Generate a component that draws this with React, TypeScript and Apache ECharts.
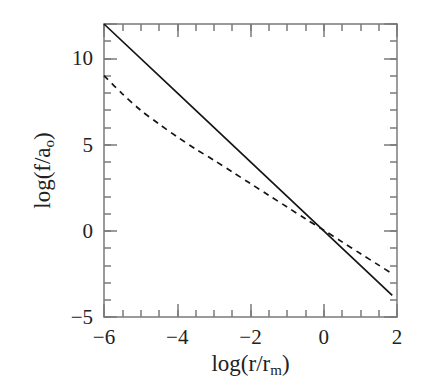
import React, { useEffect, useRef } from "react";
import * as echarts from "echarts";

const solidX = [-6, -4, -2, 0, 1.87];
const solidY = [12, 8, 4, 0, -3.74];

const dashX = [-6, -5.5, -5, -4.5, -4, -3.5, -3, -2.5, -2, -1.5, -1, -0.5, 0, 0.5, 1, 1.5, 1.87];
const dashY = [9.0, 7.95, 7.0, 6.2, 5.45, 4.75, 4.1, 3.42, 2.74, 2.06, 1.38, 0.7, 0.04, -0.64, -1.32, -1.99, -2.49];

const xRange = [-6, 2];
const yRange = [-5, 12];
const xMajor = 2;
const xMinor = 0.5;
const yMajor = 5;
const yMinor = 1;

const AXIS_COLOR = "#7a7a7a";
const LINE_COLOR = "#151515";
const FONT = "Liberation Serif";

const fmt = (v: number) => (v < 0 ? "\u2212" + Math.abs(v) : String(v));

export default function App() {
  const ref = useRef<HTMLDivElement>(null);
  useEffect(() => {
    if (!ref.current) return;
    const chart = echarts.init(ref.current, null, { renderer: "svg" });

    const mkX = (pos: "top" | "bottom", major: boolean, main: boolean) => ({
      type: "value",
      position: pos,
      min: xRange[0],
      max: xRange[1],
      interval: major ? xMajor : xMinor,
      axisLine: { show: major, onZero: false, lineStyle: { color: AXIS_COLOR, width: 1.5 } },
      axisTick: { show: true, inside: true, length: major ? 13 : 7, lineStyle: { color: AXIS_COLOR, width: 1.5 } },
      axisLabel: main
        ? { show: true, margin: 9, fontFamily: FONT, fontSize: 21, color: "#222", formatter: (v: number) => (v % xMajor === 0 ? fmt(v) : "") }
        : { show: false },
      splitLine: { show: false },
      ...(main
        ? {
            name: "{a|log(r/r}{s|m}{a|)}",
            nameLocation: "middle",
            nameGap: 33,
            nameTextStyle: {
              rich: {
                a: { fontFamily: FONT, fontSize: 23, color: "#222" },
                s: { fontFamily: FONT, fontSize: 15, color: "#222", padding: [12, 0, 0, 0] },
              },
            },
          }
        : {}),
    });

    const mkY = (pos: "left" | "right", major: boolean, main: boolean) => ({
      type: "value",
      position: pos,
      min: yRange[0],
      max: yRange[1],
      interval: major ? yMajor : yMinor,
      axisLine: { show: major, onZero: false, lineStyle: { color: AXIS_COLOR, width: 1.5 } },
      axisTick: { show: true, inside: true, length: major ? 13 : 7, lineStyle: { color: AXIS_COLOR, width: 1.5 } },
      axisLabel: main
        ? { show: true, margin: 11, fontFamily: FONT, fontSize: 21, color: "#222", formatter: (v: number) => (v % yMajor === 0 ? fmt(v) : "") }
        : { show: false },
      splitLine: { show: false },
      ...(main
        ? {
            name: "{a|log(f/a}{s|o}{a|)}",
            nameLocation: "middle",
            nameRotate: 90,
            nameGap: 48,
            nameTextStyle: {
              rich: {
                a: { fontFamily: FONT, fontSize: 23, color: "#222" },
                s: { fontFamily: FONT, fontSize: 15, color: "#222", padding: [12, 0, 0, 0] },
              },
            },
          }
        : {}),
    });

    chart.setOption({
      animation: false,
      backgroundColor: "#ffffff",
      grid: { left: 104, right: 29, top: 24, bottom: 65, containLabel: false },
      xAxis: [mkX("bottom", true, true), mkX("bottom", false, false), mkX("top", true, false), mkX("top", false, false)],
      yAxis: [mkY("left", true, true), mkY("left", false, false), mkY("right", true, false), mkY("right", false, false)],
      series: [
        {
          type: "line",
          xAxisIndex: 0,
          yAxisIndex: 0,
          data: solidX.map((x, i) => [x, solidY[i]]),
          showSymbol: false,
          lineStyle: { color: LINE_COLOR, width: 1.7, type: "solid" },
        },
        {
          type: "line",
          xAxisIndex: 0,
          yAxisIndex: 0,
          data: dashX.map((x, i) => [x, dashY[i]]),
          showSymbol: false,
          smooth: 0.3,
          lineStyle: { color: LINE_COLOR, width: 1.7, type: [6, 5] },
        },
      ],
    });
    return () => chart.dispose();
  }, []);
  return <div ref={ref} style={{ position: "fixed", left: 0, top: 0, width: 426, height: 382, background: "#fff" }} />;
}
